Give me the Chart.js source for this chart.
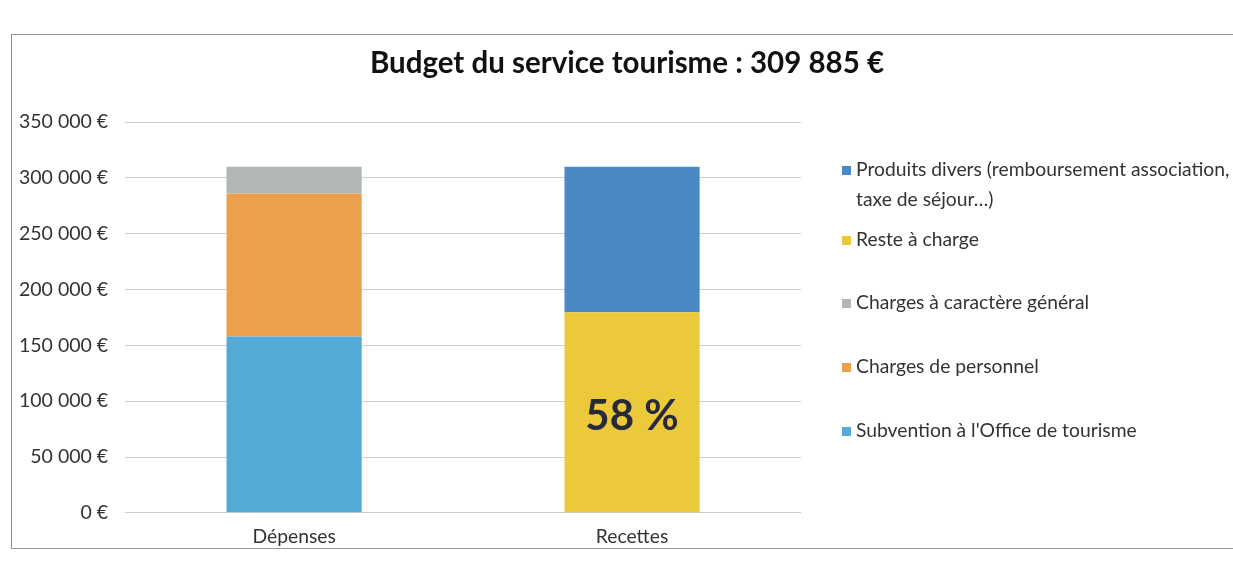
<!DOCTYPE html>
<html><head><meta charset="utf-8">
<script src="https://cdn.jsdelivr.net/npm/chart.js@4"></script>
<style>
html,body{margin:0;padding:0;background:#fff;}
#wrap{position:relative;width:1233px;height:565px;overflow:hidden;font-family:Lato,"Open Sans",sans-serif;}
#frame{position:absolute;left:11px;top:34px;width:1240px;height:513px;border-left:1px solid #8a8a8a;border-top:1px solid #9a9a9a;border-bottom:1px solid #9a9a9a;}
canvas{position:absolute;left:0;top:0;}
#title{position:absolute;left:0;width:1254px;top:44px;text-align:center;font-weight:bold;font-size:29.5px;color:#111;}
#legend{position:absolute;left:842px;top:154px;width:392px;font-size:19.3px;color:#333;}
.item{position:absolute;left:0;display:flex;align-items:flex-start;line-height:30px;}
.sw{width:9px;height:9px;margin-top:12px;margin-right:5px;flex:none;}
</style></head><body>
<div id="wrap"><div id="frame"></div><canvas id="c" width="1233" height="565"></canvas><div id="title"></div><div id="legend"></div></div>
<script>
const categories = ['Dépenses', 'Recettes'];
const seriesNames = ['Subvention à l\'Office de tourisme', 'Charges de personnel', 'Charges à caractère général', 'Reste à charge', 'Produits divers (remboursement association, taxe de séjour...)'];
const subvention = [158000, null];
const personnel = [128000, null];
const general = [23885, null];
const reste = [null, 179733];
const produits = [null, 130152];
const yTicks = [0, 50000, 100000, 150000, 200000, 250000, 300000, 350000];
const percentLabel = '58 %';
const titleText = 'Budget du service tourisme : 309 885 €';
const colors = ['#55a9d6', '#eca04c', '#b2b7b4', '#ebc93a', '#4a8ac4'];

const values = [subvention, personnel, general, reste, produits];
const datasets = values.map((v, i) => ({
  label: seriesNames[i], data: v, backgroundColor: colors[i], borderWidth: 0,
  categoryPercentage: 1, barPercentage: 0.4, stack: 's'
}));

const fmt = v => String(v).replace(/\B(?=(\d{3})+(?!\d))/g, ' ') + ' €';
const FONT = 'Lato, "Open Sans", sans-serif';

const pctPlugin = {
  id: 'pct',
  afterDatasetsDraw(chart) {
    const el = chart.getDatasetMeta(3).data[1];
    const ctx = chart.ctx;
    ctx.save();
    ctx.font = 'bold 42px ' + FONT;
    ctx.fillStyle = '#262a3a';
    ctx.textAlign = 'center';
    ctx.textBaseline = 'middle';
    ctx.fillText(percentLabel, el.x, (el.y + el.base) / 2 + 4);
    ctx.restore();
  }
};

document.getElementById('title').textContent = titleText;

new Chart(document.getElementById('c'), {
  type: 'bar',
  data: { labels: categories, datasets },
  options: {
    responsive: false, animation: false,
    layout: { padding: { left: 2, right: 432, top: 122, bottom: 5 } },
    plugins: { legend: { display: false }, tooltip: { enabled: false }, title: { display: false } },
    scales: {
      x: { stacked: true, grid: { display: false, drawTicks: false }, border: { display: false },
           ticks: { color: '#333', font: { family: FONT, size: 19.3 }, padding: 12 } },
      y: { stacked: true, min: 0, max: 350000, afterBuildTicks: s => { s.ticks = yTicks.map(v => ({ value: v })); },
           grid: { color: '#cfcfcf', drawTicks: false }, border: { display: false },
           ticks: { color: '#333', font: { family: FONT, size: 19.5 }, padding: 17, callback: v => fmt(v) } }
    }
  },
  plugins: [pctPlugin]
});

const legendTops = [0, 70, 133, 197, 261];
const lg = document.getElementById('legend');
[4, 3, 2, 1, 0].forEach((di, k) => {
  const d = document.createElement('div');
  d.className = 'item';
  d.style.top = legendTops[k] + 'px';
  const sw = document.createElement('span'); sw.className = 'sw'; sw.style.background = colors[di];
  const t = document.createElement('span'); t.textContent = seriesNames[di].replace('...', '…');
  d.appendChild(sw); d.appendChild(t); lg.appendChild(d);
});
</script></body></html>
